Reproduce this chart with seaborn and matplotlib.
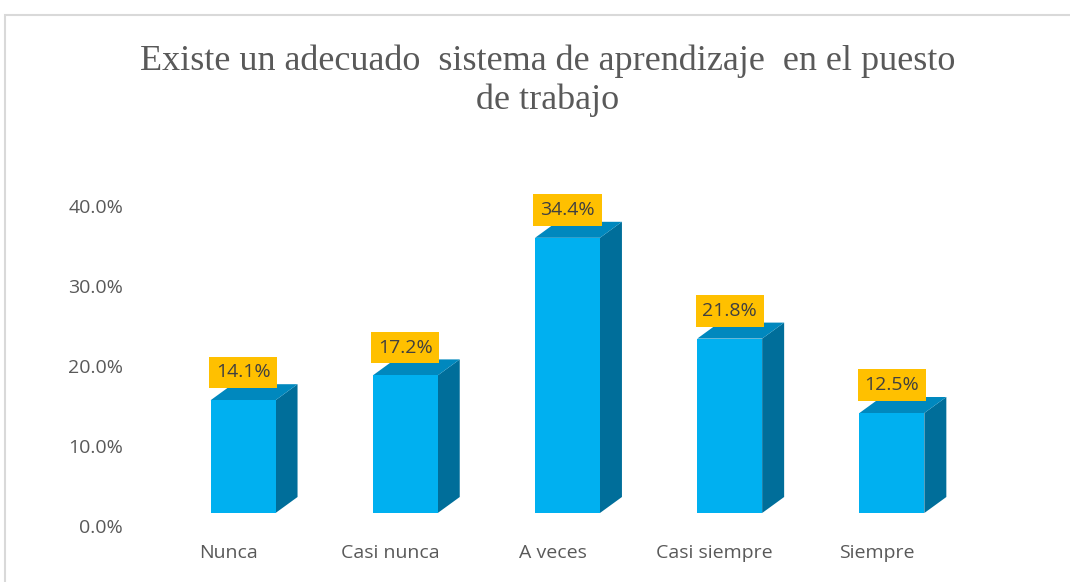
import numpy as np
import pandas as pd
import matplotlib
matplotlib.use("Agg")
import matplotlib.pyplot as plt
import matplotlib.transforms as mtransforms
from matplotlib.patches import Rectangle
import seaborn as sns

# data
categories = ["Nunca", "Casi nunca", "A veces", "Casi siempre", "Siempre"]
percentages = [0.141, 0.172, 0.344, 0.218, 0.125]
title_text = "Existe un adecuado  sistema de aprendizaje  en el puesto\nde trabajo"

front_color = "#00B0F0"
side_color = "#006E9A"
top_color = "#0088BE"
label_bg = "#FFC000"
text_gray = "#595959"

sns.set_theme(style="white")
plt.rcParams["font.family"] = ["Open Sans", "DejaVu Sans"]

fig = plt.figure(figsize=(10.7, 5.82), dpi=100)
W, H = 1070, 582

# light frame around the chart area (cut by the screenshot on right/bottom)
fig.patches.append(Rectangle((5 / W, -0.05), 1.1, 1 - 15 / H + 0.05,
                             transform=fig.transFigure, fill=False,
                             edgecolor="#D9D9D9", linewidth=1.5))

ax = fig.add_axes([162 / W, (H - 513) / H, 811 / W, 336 / H])
df = pd.DataFrame({"cat": categories, "pct": percentages})
sns.barplot(data=df, x="cat", y="pct", color=front_color, width=0.4,
            saturation=1, linewidth=0, ax=ax, zorder=3)

# fake 3d depth: side and top faces from each bar
dx = 22 / 162.2      # data units along x
dy = 16 / 800        # data units along y
for p in ax.patches:
    x0, w, h = p.get_x(), p.get_width(), p.get_height()
    x1 = x0 + w
    ax.fill([x1, x1 + dx, x1 + dx, x1], [0, dy, h + dy, h],
            color=side_color, zorder=2, lw=0)
    ax.fill([x0, x0 + dx, x1 + dx, x1], [h, h + dy, h + dy, h],
            color=top_color, zorder=2, lw=0)
    ax.annotate(f"{h * 100:.1f}%", (x0 + w / 2, h), xytext=(0, 20),
                textcoords="offset points", ha="center", va="center",
                fontsize=14, color="#404040", zorder=5,
                bbox=dict(boxstyle="square,pad=0.35", fc=label_bg, ec="none"))

ax.set_xlim(-0.5, 4.5)
ax.set_ylim(0, 0.42)
ax.set_yticks([0, 0.1, 0.2, 0.3, 0.4])
ax.set_yticklabels([f"{t * 100:.1f}%" for t in [0, 0.1, 0.2, 0.3, 0.4]])
ax.set_xlabel("")
ax.set_ylabel("")
for s in ax.spines.values():
    s.set_visible(False)
ax.tick_params(axis="y", length=0, pad=28, labelsize=14, labelcolor=text_gray)
ax.tick_params(axis="x", length=0, pad=22, labelsize=14, labelcolor=text_gray)

# shift tick labels to mimic the 3d back wall placement
y_off = mtransforms.ScaledTranslation(0, -13 / 100, fig.dpi_scale_trans)
for lab in ax.get_yticklabels():
    lab.set_transform(lab.get_transform() + y_off)
x_off = mtransforms.ScaledTranslation(-15 / 100, 0, fig.dpi_scale_trans)
for lab in ax.get_xticklabels():
    lab.set_transform(lab.get_transform() + x_off)

fig.text(548 / W, 1 - 81 / H, title_text, ha="center", va="center",
         fontsize=26, color=text_gray, family="Liberation Serif",
         linespacing=1.22)

fig.savefig("out.png", dpi=100, facecolor="white")
